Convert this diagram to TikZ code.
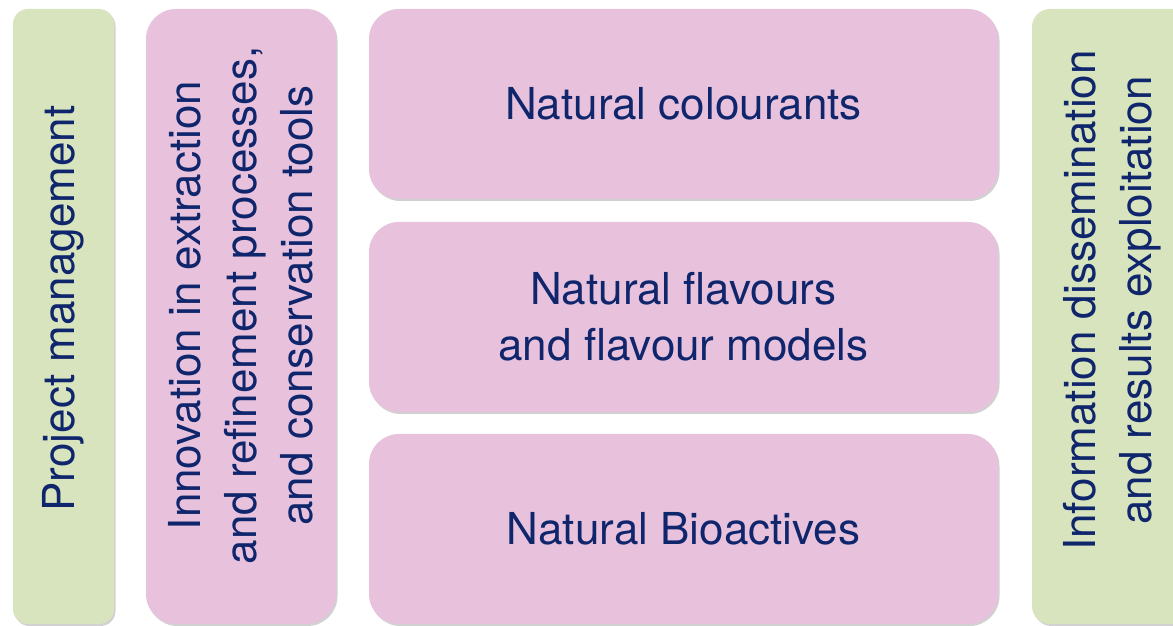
\documentclass[tikz,border=0pt]{standalone}
\usepackage{fontspec}
\setmainfont{TeX Gyre Heros}
\usetikzlibrary{shadows}

\definecolor{wpgreen}{RGB}{215,228,189}
\definecolor{wppink}{RGB}{232,194,220}
\definecolor{wptext}{RGB}{16,38,108}

\tikzset{
	wpbox/.style={rectangle, rounded corners=#1, inner sep=0pt,
		drop shadow={shadow xshift=1.5pt, shadow yshift=-2pt, opacity=0.18, fill=black}},
	wplabel/.style={text=wptext, align=center, font=\fontsize{44}{56}\selectfont}
}

\begin{document}
\begin{tikzpicture}[x=1pt,y=1pt]
		\useasboundingbox (0,0) rectangle (1173,626);

		\draw (63.5,309.5) node [wpbox=15pt, fill=wpgreen, minimum width=101pt, minimum height=615pt] (pm) {};
		\draw (241,309.5) node [wpbox=30pt, fill=wppink, minimum width=190pt, minimum height=615pt] (inno) {};
		\draw (683.5,522) node [wpbox=30pt, fill=wppink, minimum width=629pt, minimum height=190pt] (col) {};
		\draw (683.5,309) node [wpbox=30pt, fill=wppink, minimum width=629pt, minimum height=190pt] (flav) {};
		\draw (683.5,97) node [wpbox=30pt, fill=wppink, minimum width=629pt, minimum height=190pt] (bio) {};
		\draw (1112,309.5) node [wpbox=18pt, fill=wpgreen, minimum width=160pt, minimum height=615pt] (dis) {};

		\node [wplabel, rotate=90] (pmtext) at ([yshift=8pt]pm.center) {Project management};
		\node [wplabel, rotate=90] (innotext) at ([yshift=11pt]inno.center) {Innovation in extraction\\and refinement processes,\\and conservation tools};
		\node [wplabel] (coltext) at (col.center) {Natural colourants};
		\node [wplabel] (flavtext) at (flav.center) {Natural flavours\\and flavour models};
		\node [wplabel] (biotext) at (bio.center) {Natural Bioactives};
		\node [wplabel, rotate=90] (distext) at ([yshift=16pt]dis.center) {Information dissemination\\and results exploitation};
	\end{tikzpicture}
\end{document}
